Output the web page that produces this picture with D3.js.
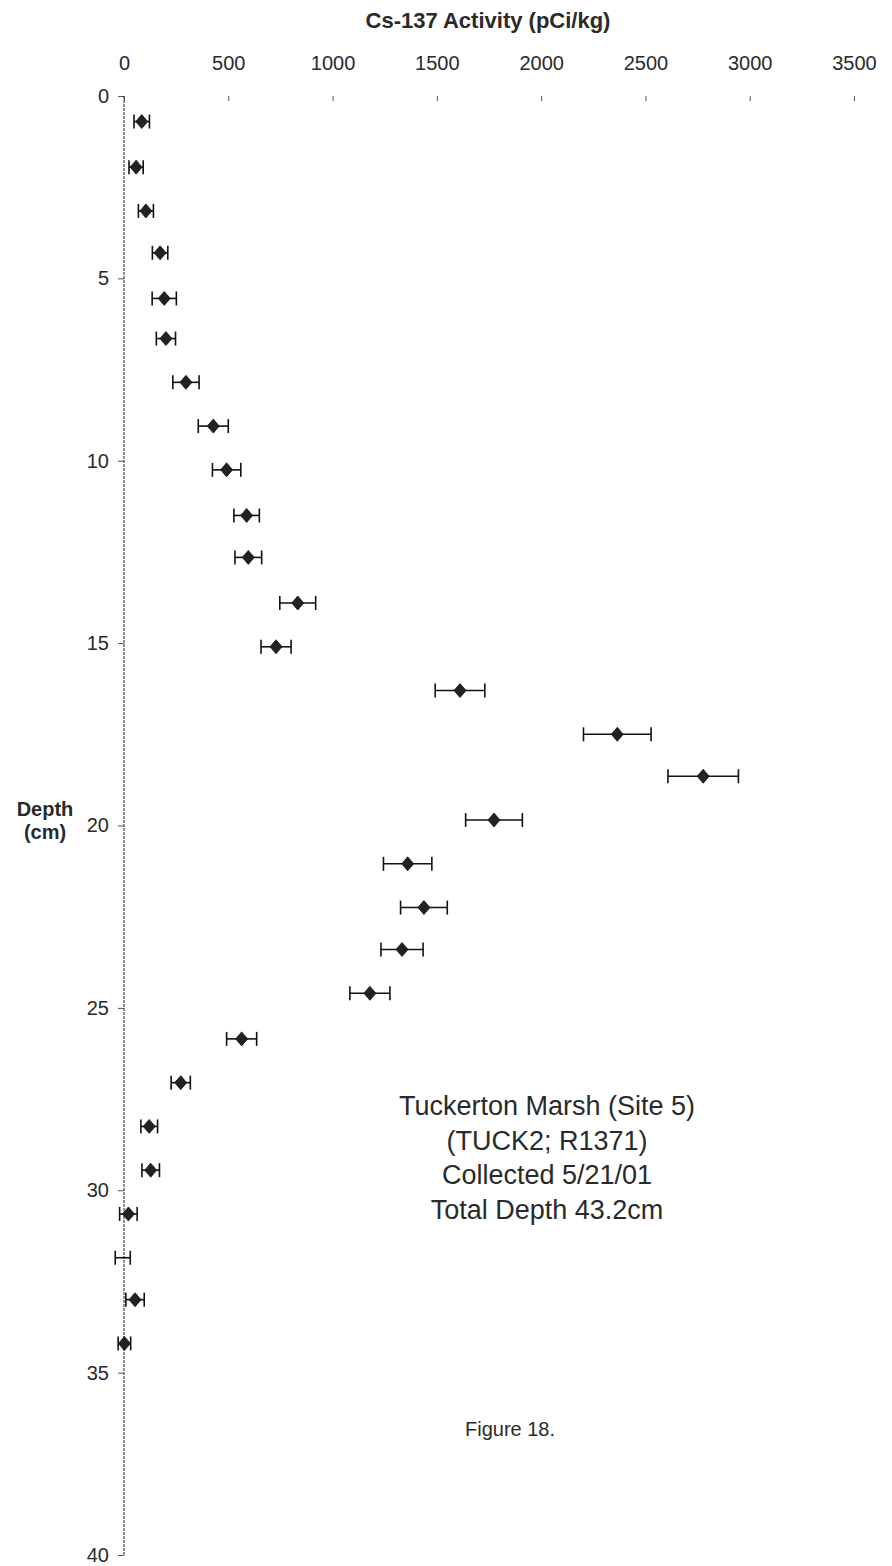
<!DOCTYPE html>
<html>
<head>
<meta charset="utf-8">
<script src="https://cdn.jsdelivr.net/npm/d3@7"></script>
<style>
  html, body { margin: 0; padding: 0; background: #fff; }
  svg { display: block; }
  svg text { font-family: "Liberation Sans", Arial, sans-serif; }
</style>
</head>
<body>
<svg id="chart" width="892" height="1566"></svg>
<script>
// Core sample depth (cm, mid-interval) and Cs-137 activity (pCi/kg) with counting error
const depths = [0.7, 1.95, 3.15, 4.3, 5.55, 6.65, 7.85, 9.05, 10.25, 11.5, 12.65, 13.9, 15.1,
  16.3, 17.5, 18.65, 19.85, 21.05, 22.25, 23.4, 24.6, 25.85, 27.05, 28.25, 29.45, 30.65, 31.85, 33.0, 34.2];
const activity = [85, 58, 105, 173, 193, 201, 297, 428, 492, 588, 596, 833, 729,
  1611, 2365, 2777, 1774, 1360, 1438, 1333, 1179, 564, 272, 121, 128, 21, -6, 53, 2];
const activityErr = [37, 34, 36, 37, 58, 46, 63, 72, 68, 61, 64, 86, 72,
  119, 162, 169, 136, 116, 112, 101, 96, 72, 46, 40, 42, 42, 36, 44, 30];

const xTicks = [0, 500, 1000, 1500, 2000, 2500, 3000, 3500];
const yTicks = [0, 5, 10, 15, 20, 25, 30, 35, 40];

const xTitle = "Cs-137 Activity (pCi/kg)";
const yTitle = ["Depth", "(cm)"];
const noteLines = ["Tuckerton Marsh (Site 5)", "(TUCK2; R1371)", "Collected 5/21/01", "Total Depth 43.2cm"];
const figureLabel = "Figure 18.";

const svg = d3.select("#chart");

const x = d3.scaleLinear().domain([0, 3500]).range([124, 854]);
const y = d3.scaleLinear().domain([0, 40]).range([96, 1555]);

const textColor = "#2a2a2a";

// Top (activity) axis: labels above, short ticks hanging into the plot
const xAxisG = svg.append("g")
  .attr("transform", `translate(0,${y(0)})`)
  .call(d3.axisTop(x).tickValues(xTicks).tickSizeInner(-5).tickSizeOuter(0).tickPadding(26)
    .tickFormat(d3.format("d")));
xAxisG.select(".domain").remove();
xAxisG.selectAll(".tick line").attr("stroke", "#555").attr("stroke-width", 1);
xAxisG.selectAll(".tick text").attr("fill", textColor).style("font-size", "20px");

// Left (depth) axis with a dotted axis line
const yAxisG = svg.append("g")
  .attr("transform", `translate(${x(0)},0)`)
  .call(d3.axisLeft(y).tickValues(yTicks).tickSizeInner(6).tickSizeOuter(0).tickPadding(9)
    .tickFormat(d3.format("d")));
yAxisG.select(".domain").remove();
yAxisG.selectAll(".tick line").attr("stroke", "#555").attr("stroke-width", 1);
yAxisG.selectAll(".tick text").attr("fill", textColor).style("font-size", "20px");
svg.append("line")
  .attr("x1", x(0)).attr("x2", x(0))
  .attr("y1", y(0)).attr("y2", y(40))
  .attr("stroke", "#444").attr("stroke-width", 1.2).attr("stroke-dasharray", "3,1");

// Axis titles
svg.append("text")
  .attr("x", 488).attr("y", 28)
  .attr("text-anchor", "middle")
  .attr("font-weight", "bold").style("font-size", "22px")
  .attr("fill", textColor)
  .text(xTitle);

svg.append("text")
  .attr("text-anchor", "middle")
  .attr("font-weight", "bold").style("font-size", "20px")
  .attr("fill", textColor)
  .selectAll("tspan").data(yTitle).join("tspan")
  .attr("x", 45).attr("y", (d, i) => 816 + i * 23)
  .text(d => d);

// Data
const data = depths.map((d, i) => ({ depth: d, value: activity[i], err: activityErr[i] }));
const capH = 7;

const points = svg.append("g").selectAll("g.pt").data(data).join("g").attr("class", "pt");

points.append("line")
  .attr("x1", d => x(d.value - d.err)).attr("x2", d => x(d.value + d.err))
  .attr("y1", d => y(d.depth)).attr("y2", d => y(d.depth))
  .attr("stroke", "#111").attr("stroke-width", 1.6);
points.append("line")
  .attr("x1", d => x(d.value - d.err)).attr("x2", d => x(d.value - d.err))
  .attr("y1", d => y(d.depth) - capH).attr("y2", d => y(d.depth) + capH)
  .attr("stroke", "#111").attr("stroke-width", 1.6);
points.append("line")
  .attr("x1", d => x(d.value + d.err)).attr("x2", d => x(d.value + d.err))
  .attr("y1", d => y(d.depth) - capH).attr("y2", d => y(d.depth) + capH)
  .attr("stroke", "#111").attr("stroke-width", 1.6);

// Diamond markers (values below the axis minimum are not marked)
points.filter(d => d.value >= 0).append("path")
  .attr("d", d => {
    const cx = x(d.value), cy = y(d.depth);
    return `M${cx},${cy - 7}L${cx + 6},${cy}L${cx},${cy + 7}L${cx - 6},${cy}Z`;
  })
  .attr("fill", "#222").attr("stroke", "#111").attr("stroke-width", 0.8);

// Site annotation
svg.append("text")
  .attr("text-anchor", "middle")
  .style("font-size", "27px")
  .attr("fill", textColor)
  .selectAll("tspan").data(noteLines).join("tspan")
  .attr("x", 547).attr("y", (d, i) => 1115 + i * 34.5)
  .text(d => d);

svg.append("text")
  .attr("x", 510).attr("y", 1436)
  .attr("text-anchor", "middle")
  .style("font-size", "20px")
  .attr("fill", textColor)
  .text(figureLabel);
</script>
</body>
</html>
